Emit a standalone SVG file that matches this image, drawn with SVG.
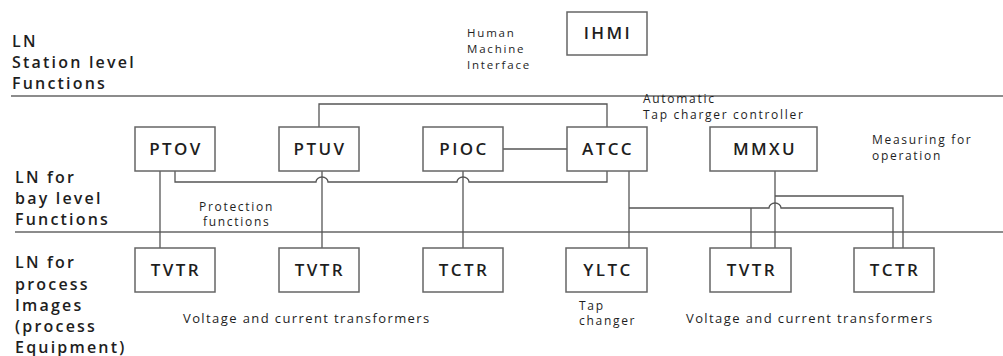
<svg xmlns="http://www.w3.org/2000/svg" width="1003" height="356" viewBox="0 0 1003 356">
<style>
text{font-family:"Open Sans","Liberation Sans",sans-serif;fill:#1e1e1e}
.lvl{font-size:16px;letter-spacing:2.2px;font-weight:600}
.box rect{fill:#fff;stroke:#666;stroke-width:1.5}
.box text{font-size:17px;letter-spacing:2.4px;text-anchor:middle;font-weight:600}
.note{font-size:12px;letter-spacing:1.7px;font-weight:500}
.vct{font-size:13px;letter-spacing:1.4px;font-weight:500}
.sep{stroke:#666;stroke-width:1.5;fill:none}
#connectors path{fill:none;stroke:#555;stroke-width:1.3}
</style>
<rect width="1003" height="356" fill="#fff"/>
<g id="separators">
<line class="sep" x1="11" y1="96" x2="1003" y2="96"/>
<line class="sep" x1="15" y1="232" x2="1003" y2="232"/>
</g>
<g id="level-labels">
<text class="lvl" x="12" y="47">LN</text>
<text class="lvl" x="12" y="68">Station level</text>
<text class="lvl" x="12" y="89">Functions</text>
<text class="lvl" x="15" y="183">LN for</text>
<text class="lvl" x="15" y="204">bay level</text>
<text class="lvl" x="15" y="225">Functions</text>
<text class="lvl" x="15" y="268">LN for</text>
<text class="lvl" x="15" y="290">process</text>
<text class="lvl" x="15" y="311">Images</text>
<text class="lvl" x="15" y="332">(process</text>
<text class="lvl" x="15" y="353">Equipment)</text>
</g>
<g id="connectors">
<path d="M319,127 V104 H607 V127"/>
<path d="M503,149 H567"/>
<path d="M175,171 V182 H316 a6,5 0 0 1 12,0 H457 a6,5 0 0 1 12,0 H607 V171"/>
<path d="M160,171 V248"/>
<path d="M322,171 V248"/>
<path d="M463,171 V248"/>
<path d="M629,171 V248"/>
<path d="M629,208 H769 a6,5 0 0 1 12,0 H893 V248"/>
<path d="M751,208 V248"/>
<path d="M775,171 V248"/>
<path d="M775,196 H903 V248"/>
</g>
<g id="IHMI" class="box"><rect x="567" y="12" width="80" height="43"/><text x="608" y="39">IHMI</text></g>
<g id="PTOV" class="box"><rect x="135" y="127" width="80" height="44"/><text x="176" y="155">PTOV</text></g>
<g id="PTUV" class="box"><rect x="279" y="127" width="80" height="44"/><text x="320" y="155">PTUV</text></g>
<g id="PIOC" class="box"><rect x="423" y="127" width="80" height="44"/><text x="464" y="155">PIOC</text></g>
<g id="ATCC" class="box"><rect x="567" y="127" width="80" height="44"/><text x="608" y="155">ATCC</text></g>
<g id="MMXU" class="box"><rect x="710" y="127" width="107" height="44"/><text x="765" y="155">MMXU</text></g>
<g id="TVTR1" class="box"><rect x="135" y="248" width="80" height="44"/><text x="176" y="276">TVTR</text></g>
<g id="TVTR2" class="box"><rect x="279" y="248" width="80" height="44"/><text x="320" y="276">TVTR</text></g>
<g id="TCTR1" class="box"><rect x="423" y="248" width="80" height="44"/><text x="464" y="276">TCTR</text></g>
<g id="YLTC" class="box"><rect x="566" y="248" width="81" height="44"/><text x="608" y="276">YLTC</text></g>
<g id="TVTR3" class="box"><rect x="710" y="248" width="81" height="44"/><text x="752" y="276">TVTR</text></g>
<g id="TCTR2" class="box"><rect x="854" y="248" width="80" height="44"/><text x="895" y="276">TCTR</text></g>
<g id="notes">
<text class="note" x="467" y="37" style="font-size:11.5px;letter-spacing:1.8px">Human</text>
<text class="note" x="467" y="53" style="font-size:11.5px;letter-spacing:1.8px">Machine</text>
<text class="note" x="467" y="69" style="font-size:11.5px;letter-spacing:1.8px">Interface</text>
<text class="note" x="643" y="103">Automatic</text>
<text class="note" x="643" y="119">Tap charger controller</text>
<text class="note" x="872" y="144">Measuring for</text>
<text class="note" x="872" y="160">operation</text>
<text class="note" x="199" y="211">Protection</text>
<text class="note" x="203" y="226">functions</text>
<text class="note" x="579" y="310">Tap</text>
<text class="note" x="579" y="325">changer</text>
<text class="vct" x="183" y="323">Voltage and current transformers</text>
<text class="vct" x="686" y="323">Voltage and current transformers</text>
</g>
</svg>
